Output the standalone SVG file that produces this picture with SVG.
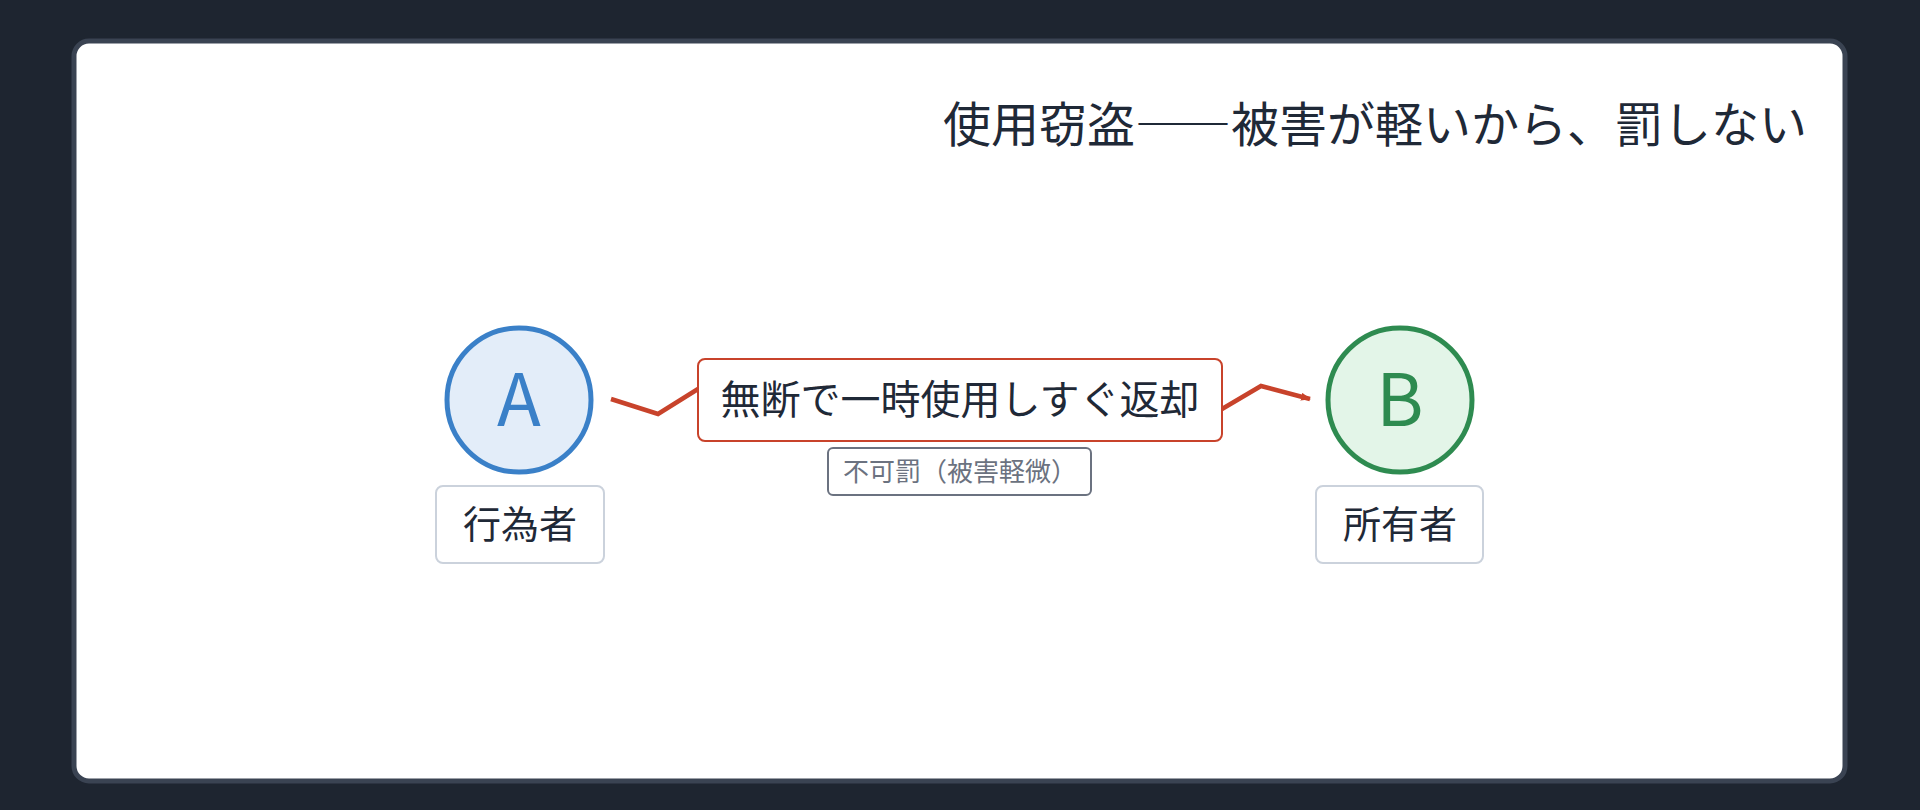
<svg xmlns="http://www.w3.org/2000/svg" width="1920" height="810" viewBox="0 0 1920 810">
<style>
text{font-family:"Noto Sans CJK JP","Noto Sans",sans-serif}
.lbl{fill:#fff;stroke:#cbd2dc;stroke-width:2}
.lt{font-size:38px;fill:#1f2937;text-anchor:middle}
.edge{fill:none;stroke:#c8432b;stroke-width:4.5;stroke-linejoin:miter}
</style>
<defs><marker id="ah" markerWidth="10" markerHeight="8" refX="9" refY="4" orient="auto" markerUnits="userSpaceOnUse" viewBox="0 0 10 8"><path d="M0 0L10 4L0 8z" fill="#c8432b"/></marker></defs>
<rect width="1920" height="810" fill="#1e2530"/>
<rect x="74" y="41" width="1771" height="740" rx="15" fill="#fff" stroke="#3a4352" stroke-width="5"/>
<text x="1807" y="142" font-size="48" fill="#1f2937" text-anchor="end">使用窃盗――被害が軽いから、罰しない</text>
<g id="connectors">
<path class="edge" d="M611 399L658 414L698 389"/>
<path class="edge" d="M1222 409L1261 386L1310 399" marker-end="url(#ah)"/>
<rect x="698" y="359" width="524" height="82" rx="7" fill="#fff" stroke="#c8432b" stroke-width="2"/>
<text x="960" y="414" font-size="40" fill="#1f2937" text-anchor="middle">無断で一時使用しすぐ返却</text>
<rect x="828" y="448" width="263" height="47" rx="5" fill="#fff" stroke="#6b7280" stroke-width="2"/>
<text x="960" y="481" font-size="26" fill="#6b7280" text-anchor="middle">不可罰（被害軽微）</text>
</g>
<g id="nodeA">
<circle cx="519" cy="400" r="72" fill="#e3edf9" stroke="#3a80c8" stroke-width="5"/>
<text x="519" y="426" font-size="72" fill="#3a80c8" text-anchor="middle" font-family="Noto Sans,sans-serif">A</text>
<rect class="lbl" x="436" y="486" width="168" height="77" rx="7"/>
<text class="lt" x="520" y="538">行為者</text>
</g>
<g id="nodeB">
<circle cx="1400" cy="400" r="72" fill="#e3f5e8" stroke="#2e8b50" stroke-width="5"/>
<text x="1400" y="426" font-size="72" fill="#2e8b50" text-anchor="middle" font-family="Noto Sans,sans-serif">B</text>
<rect class="lbl" x="1316" y="486" width="167" height="77" rx="7"/>
<text class="lt" x="1400" y="538">所有者</text>
</g>
</svg>
